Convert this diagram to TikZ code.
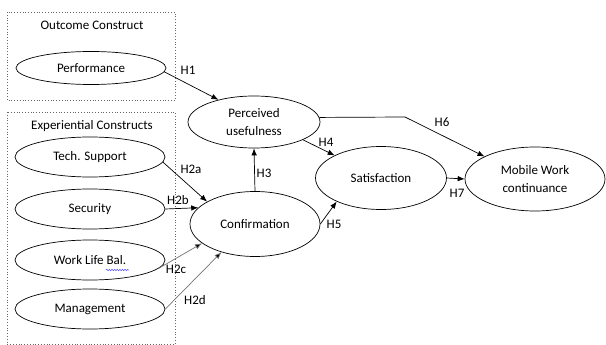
\documentclass[tikz,border=0pt]{standalone}
\usepackage{fontspec}
\setmainfont{Carlito}
\usetikzlibrary{shapes.geometric,arrows.meta,decorations.pathmorphing}

\newlength{\du}
\setlength{\du}{1pt}

\tikzset{
  construct/.style={draw, ellipse, line width=0.7pt, inner sep=0pt, align=center,
    minimum width=150\du, minimum height=40\du},
  groupbox/.style={draw=black!60, dotted, line width=0.8pt},
  hypo/.style={-{Latex[length=7pt,width=5.5pt]}, line width=0.7pt},
  hypogray/.style={hypo, draw=black!55, -{Latex[length=7pt,width=5.5pt,fill=black]}},
  hlabel/.style={inner sep=1pt},
  spellwave/.style={draw=blue!70, line width=0.5pt, decorate,
    decoration={snake, amplitude=0.7pt, segment length=2.6pt}}
}

\begin{document}
\begin{tikzpicture}[x=1\du,y=-1\du,font=\fontsize{13}{18}\selectfont]
\useasboundingbox (0,0) rectangle (606,345);
% construct groups
\draw[groupbox] (7,12) rectangle (175,100);
\draw[groupbox] (7,112) rectangle (175,344);
\node (outcome) at (92,25) {Outcome Construct};
\node (exper) at (92,126) {Experiential Constructs};
% constructs
\node[construct, minimum height=33\du] (perf) at (91,68) {Performance};
\node[construct] (tech) at (90,157) {Tech. Support};
\node[construct] (secu) at (90,209) {Security};
\node[construct] (wlb) at (90,260) {Work Life Bal.};
\node[construct] (mgmt) at (90,309) {Management};
\node[construct, minimum width=132\du, minimum height=52\du] (pu) at (254,122) {Perceived\\usefulness};
\node[construct, minimum width=130\du, minimum height=65\du] (conf) at (255,224) {Confirmation};
\node[construct, minimum width=131\du, minimum height=63\du] (sat) at (381,178) {Satisfaction};
\node[construct, minimum width=140\du, minimum height=64\du] (mwc) at (535,179) {Mobile Work\\continuance};
\draw[spellwave] (wlb.center) ++(16,10) -- ++(23,0);
% hypotheses
\draw[hypo] (perf.-3) -- (pu.148);
\draw[hypo] (tech.-4) -- (conf.155);
\draw[hypo] (secu.east) -- (conf.164);
\draw[hypogray] (wlb.-7) -- (conf.200);
\draw[hypogray] (mgmt.0) -- (conf.220);
\draw[hypo] (conf.north) -- (pu.south);
\draw[hypo] (pu.-20) -- (sat.154);
\draw[hypo] (conf.east) -- (sat.-152);
\coordinate (bend) at (405,117);
\draw[hypo] (pu.4) -- (bend) -- (mwc.156);
\draw[hypo] (sat.east) -- (mwc.west);
% labels
\node[hlabel] (h1) at (188,70) {H1};
\node[hlabel] (h2a) at (191,169) {H2a};
\node[hlabel] (h2b) at (178,200) {H2b};
\node[hlabel] (h2c) at (176,269) {H2c};
\node[hlabel] (h2d) at (195,300) {H2d};
\node[hlabel] (h3) at (264,173) {H3};
\node[hlabel] (h4) at (326,142) {H4};
\node[hlabel] (h5) at (334,224) {H5};
\node[hlabel] (h6) at (442,122) {H6};
\node[hlabel] (h7) at (457,193) {H7};
\end{tikzpicture}
\end{document}
